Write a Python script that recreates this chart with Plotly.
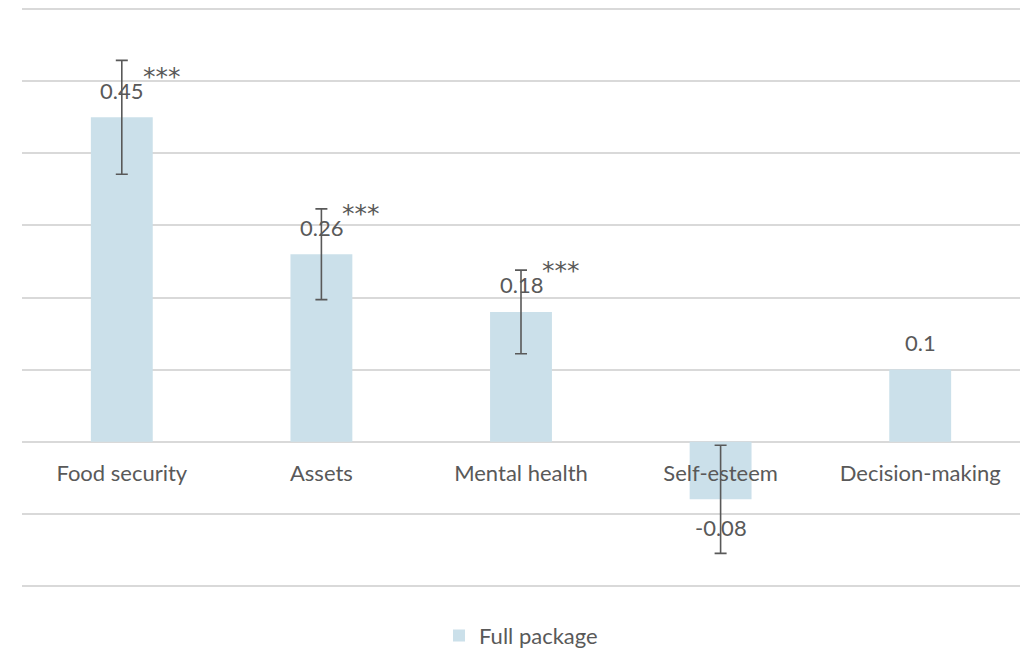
import plotly.graph_objects as go

# Effect sizes for the full package, with 95% CI half-widths
categories = ["Food security", "Assets", "Mental health", "Self-esteem", "Decision-making"]
effects = [0.45, 0.26, 0.18, -0.08, 0.1]
ci_half = [0.079, 0.063, 0.058, 0.075, None]
stars = ["***", "***", "***", "", ""]
value_labels = ["0.45", "0.26", "0.18", "-0.08", "0.1"]

FONT = "Lato"
TEXT = "#595959"
BAR = "#cbe0ea"
GRID = "#d9d9d9"
Y_RANGE = [-0.21, 0.61]

fig = go.Figure()
fig.add_trace(go.Bar(
    x=categories,
    y=effects,
    name="Full package",
    marker=dict(color=BAR, line=dict(width=0)),
))

# error bars only where a confidence interval is reported
ci_cats = [c for c, e in zip(categories, ci_half) if e is not None]
ci_vals = [v for v, e in zip(effects, ci_half) if e is not None]
ci_errs = [e for e in ci_half if e is not None]
fig.add_trace(go.Scatter(
    x=ci_cats, y=ci_vals, mode="markers",
    marker=dict(size=0.1, opacity=0),
    error_y=dict(type="data", array=ci_errs, symmetric=True,
                 color=TEXT, thickness=1.6, width=6),
    showlegend=False, hoverinfo="skip",
))

# value labels above/below the bar ends, significance stars to the upper right
for cat, val, lab, st in zip(categories, effects, value_labels, stars):
    fig.add_annotation(x=cat, y=val, text=lab, showarrow=False,
                       yanchor="middle", yshift=27 if val >= 0 else -28,
                       font=dict(family=FONT, size=22, color=TEXT))
    if st:
        fig.add_annotation(x=cat, y=val, text=st, showarrow=False,
                           yanchor="middle", xshift=40, yshift=41,
                           font=dict(family="DejaVu Sans", size=25, color=TEXT))

# x axis sits on the zero line
zero_pos = (0 - Y_RANGE[0]) / (Y_RANGE[1] - Y_RANGE[0])

fig.update_layout(
    width=1021, height=650,
    margin=dict(l=22, r=1, t=2, b=57, autoexpand=False),
    paper_bgcolor="white", plot_bgcolor="white",
    bargap=0.69,
    showlegend=True,
    legend=dict(orientation="h", x=0.5, xanchor="center",
                yref="container", y=0.022, yanchor="middle",
                font=dict(family=FONT, size=22, color=TEXT)),
    font=dict(family=FONT, size=22, color=TEXT),
    xaxis=dict(anchor="free", position=zero_pos, showline=False, ticks="",
               showgrid=False, tickfont=dict(family=FONT, size=22, color=TEXT),
               ticklabelstandoff=16),
    yaxis=dict(range=Y_RANGE, dtick=0.1, tick0=0, showticklabels=False,
               showgrid=True, gridcolor=GRID, gridwidth=2,
               zeroline=True, zerolinecolor=GRID, zerolinewidth=2,
               showline=False, ticks=""),
)

fig.write_html("out.html")
